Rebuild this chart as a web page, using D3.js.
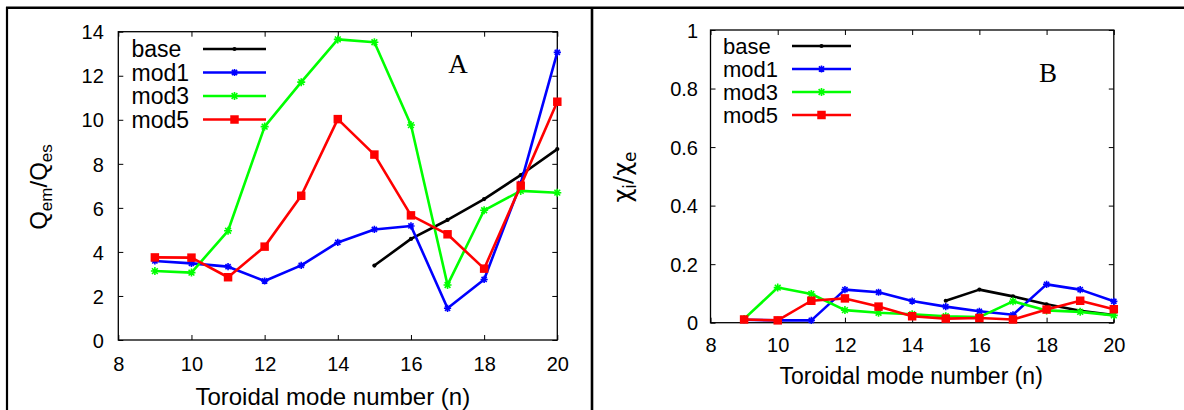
<!DOCTYPE html>
<html>
<head>
<meta charset="utf-8">
<script src="https://cdn.jsdelivr.net/npm/d3@7"></script>
<style>
  html, body { margin: 0; padding: 0; background: #fff; }
  svg { display: block; }
  text { font-family: "Liberation Sans", Arial, Helvetica, sans-serif; fill: #000; }
</style>
</head>
<body>
<svg id="chart" width="1184" height="410"></svg>
<script>
// ---- data ----
const modeNumbers = [9, 10, 11, 12, 13, 14, 15, 16, 17, 18, 19, 20];
const baseModes = [15, 16, 17, 18, 19, 20];
const seriesNames = ["base", "mod1", "mod3", "mod5"];
const seriesColors = ["#000000", "#0000ff", "#00ff00", "#ff0000"];

// Panel A: Q_em / Q_es
const qBase = [3.38, 4.59, 5.45, 6.40, 7.49, 8.67];
const qMod1 = [3.59, 3.48, 3.33, 2.68, 3.39, 4.43, 5.02, 5.18, 1.44, 2.75, 7.10, 13.06];
const qMod3 = [3.13, 3.06, 4.96, 9.69, 11.71, 13.65, 13.52, 9.76, 2.50, 5.89, 6.77, 6.69];
const qMod5 = [3.75, 3.74, 2.85, 4.24, 6.55, 10.03, 8.42, 5.66, 4.80, 3.24, 7.01, 10.82];

// Panel B: chi_i / chi_e
const cBase = [0.075, 0.113, 0.090, 0.063, 0.041, 0.026];
const cMod1 = [0.010, 0.008, 0.008, 0.113, 0.104, 0.074, 0.055, 0.039, 0.027, 0.131, 0.113, 0.073];
const cMod3 = [0.013, 0.120, 0.098, 0.043, 0.034, 0.029, 0.022, 0.019, 0.073, 0.042, 0.037, 0.025];
const cMod5 = [0.011, 0.008, 0.075, 0.083, 0.055, 0.022, 0.014, 0.016, 0.011, 0.045, 0.075, 0.046];

const xTicks = [8, 10, 12, 14, 16, 18, 20];
const yTicksA = [0, 2, 4, 6, 8, 10, 12, 14];
const yTicksB = [0, 0.2, 0.4, 0.6, 0.8, 1];

const svg = d3.select("#chart");

// frame lines
svg.append("line").attr("x1", 6).attr("x2", 1184).attr("y1", 7.8).attr("y2", 7.8)
  .attr("stroke", "#000").attr("stroke-width", 2.4);
svg.append("line").attr("x1", 7).attr("x2", 7).attr("y1", 7).attr("y2", 410)
  .attr("stroke", "#000").attr("stroke-width", 2.2);
svg.append("line").attr("x1", 592).attr("x2", 592).attr("y1", 7).attr("y2", 410)
  .attr("stroke", "#000").attr("stroke-width", 2.6);

function markerPath(kind) {
  if (kind === "circle") return d3.symbol().type(d3.symbolCircle).size(14)();
  if (kind === "square") return d3.symbol().type(d3.symbolSquare).size(72)();
  // asterisk
  const r = kind === "star2" ? 4 : 3.6;
  const d = r * 0.72;
  return `M${-r},0L${r},0M0,${-r}L0,${r}M${-d},${-d}L${d},${d}M${-d},${d}L${d},${-d}`;
}
const markerKinds = ["circle", "star", "star2", "square"];

function drawPanel(cfg) {
  const g = svg.append("g");
  const x = d3.scaleLinear().domain([8, 20]).range([cfg.left, cfg.right]);
  const y = d3.scaleLinear().domain(cfg.yDomain).range([cfg.bottom, cfg.top]);

  // axes box
  g.append("rect").attr("x", cfg.left).attr("y", cfg.top)
    .attr("width", cfg.right - cfg.left).attr("height", cfg.bottom - cfg.top)
    .attr("fill", "none").attr("stroke", "#000").attr("stroke-width", 1.3);

  const tl = 5;
  // x ticks (bottom & top, inward)
  const xAxisB = d3.axisBottom(x).tickValues(cfg.xTicks).tickSize(-tl).tickPadding(0).tickFormat(d3.format("d"));
  const gx = g.append("g").attr("transform", `translate(0,${cfg.bottom})`).call(xAxisB);
  gx.select(".domain").remove();
  gx.selectAll(".tick line").attr("stroke", "#000").attr("stroke-width", 1);
  gx.selectAll(".tick text").attr("dy", null).attr("y", cfg.xLabelOffset)
    .attr("font-size", 20).style("font-family", '"Liberation Sans", Arial, sans-serif').attr("fill", "#000");
  const xAxisT = d3.axisTop(x).tickValues(cfg.xTicks).tickSize(-tl).tickFormat("");
  const gxt = g.append("g").attr("transform", `translate(0,${cfg.top})`).call(xAxisT);
  gxt.select(".domain").remove();
  gxt.selectAll(".tick line").attr("stroke", "#000").attr("stroke-width", 1);

  // y ticks (left & right, inward)
  const yAxisL = d3.axisLeft(y).tickValues(cfg.yTicks).tickSize(-tl).tickPadding(0).tickFormat(cfg.yFormat);
  const gy = g.append("g").attr("transform", `translate(${cfg.left},0)`).call(yAxisL);
  gy.select(".domain").remove();
  gy.selectAll(".tick line").attr("stroke", "#000").attr("stroke-width", 1);
  gy.selectAll(".tick text").attr("x", -cfg.yLabelGap).attr("dy", "0.36em")
    .attr("font-size", 20).style("font-family", '"Liberation Sans", Arial, sans-serif').attr("fill", "#000");
  const yAxisR = d3.axisRight(y).tickValues(cfg.yTicks).tickSize(-tl).tickFormat("");
  const gyr = g.append("g").attr("transform", `translate(${cfg.right},0)`).call(yAxisR);
  gyr.select(".domain").remove();
  gyr.selectAll(".tick line").attr("stroke", "#000").attr("stroke-width", 1);

  // series
  const line = d3.line().x(d => x(d[0])).y(d => y(d[1]));
  cfg.series.forEach((s, i) => {
    const pts = s.xs.map((v, k) => [v, s.ys[k]]);
    g.append("path").datum(pts).attr("d", line).attr("fill", "none")
      .attr("stroke", seriesColors[i]).attr("stroke-width", 2.6).attr("stroke-linejoin", "round");
    const kind = markerKinds[i];
    g.selectAll(null).data(pts).enter().append("path")
      .attr("transform", d => `translate(${x(d[0])},${y(d[1])})`)
      .attr("d", markerPath(kind))
      .attr("fill", (kind === "circle" || kind === "square") ? seriesColors[i] : "none")
      .attr("stroke", seriesColors[i])
      .attr("stroke-width", (kind === "circle" || kind === "square") ? 0 : 1.6);
  });

  // legend
  seriesNames.forEach((name, i) => {
    const yy = cfg.legY + i * cfg.legStep;
    g.append("text").attr("x", cfg.legTextX).attr("y", yy + 8).attr("font-size", cfg.legFont).text(name);
    g.append("line").attr("x1", cfg.legLineX1).attr("x2", cfg.legLineX2).attr("y1", yy).attr("y2", yy)
      .attr("stroke", seriesColors[i]).attr("stroke-width", 2.6);
    const kind = markerKinds[i];
    g.append("path").attr("transform", `translate(${(cfg.legLineX1 + cfg.legLineX2) / 2},${yy})`)
      .attr("d", markerPath(kind))
      .attr("fill", (kind === "circle" || kind === "square") ? seriesColors[i] : "none")
      .attr("stroke", seriesColors[i])
      .attr("stroke-width", (kind === "circle" || kind === "square") ? 0 : 1.6);
  });

  // panel letter
  g.append("text").attr("x", cfg.letterX).attr("y", cfg.letterY).attr("text-anchor", "middle")
    .attr("font-size", 27).style("font-family", '"Liberation Serif", "Times New Roman", serif')
    .text(cfg.letter);

  // x title
  g.append("text").attr("x", (cfg.left + cfg.right) / 2 + cfg.xTitleShift).attr("y", cfg.xTitleY)
    .attr("text-anchor", "middle").attr("font-size", cfg.xTitleSize).text("Toroidal mode number (n)");

  // y title
  const yt = g.append("text").attr("transform", `translate(${cfg.yTitleX},${cfg.yTitleY}) rotate(-90)`)
    .attr("text-anchor", "middle").attr("font-size", 24)
    .style("font-family", cfg.yTitleFont);
  yt.append("tspan").text(cfg.yTitle[0]);
  yt.append("tspan").attr("font-size", 17).attr("dy", 5).text(cfg.yTitle[1]);
  yt.append("tspan").attr("dy", -5).text("/" + cfg.yTitle[2]);
  yt.append("tspan").attr("font-size", 17).attr("dy", 5).text(cfg.yTitle[3]);
}

drawPanel({
  left: 118.3, right: 557.3, top: 31.7, bottom: 340,
  yDomain: [0, 14], yTicks: yTicksA, xTicks: xTicks, yFormat: d3.format("d"),
  xLabelOffset: 31, yLabelGap: 14.5,
  series: [
    { xs: baseModes, ys: qBase },
    { xs: modeNumbers, ys: qMod1 },
    { xs: modeNumbers, ys: qMod3 },
    { xs: modeNumbers, ys: qMod5 }
  ],
  legY: 49, legStep: 23.5, legFont: 23, legTextX: 131.5, legLineX1: 203, legLineX2: 266,
  letter: "A", letterX: 458, letterY: 72.5,
  xTitleShift: -5, xTitleY: 405, xTitleSize: 24,
  yTitle: ["Q", "em", "Q", "es"], yTitleX: 47, yTitleY: 187,
  yTitleFont: '"Liberation Sans", Arial, sans-serif'
});

drawPanel({
  left: 710.5, right: 1113.8, top: 30, bottom: 322.7,
  yDomain: [0, 1], yTicks: yTicksB, xTicks: xTicks, yFormat: d => d === 0 || d === 1 ? d3.format("d")(d) : d3.format(".1f")(d),
  xLabelOffset: 29, yLabelGap: 12.5,
  series: [
    { xs: baseModes, ys: cBase },
    { xs: modeNumbers, ys: cMod1 },
    { xs: modeNumbers, ys: cMod3 },
    { xs: modeNumbers, ys: cMod5 }
  ],
  legY: 46, legStep: 23, legFont: 22, legTextX: 723, legLineX1: 792, legLineX2: 851,
  letter: "B", letterX: 1048, letterY: 81.5,
  xTitleShift: -1, xTitleY: 383.5, xTitleSize: 23,
  yTitle: ["χ", "i", "χ", "e"], yTitleX: 631, yTitleY: 177,
  yTitleFont: '"DejaVu Sans", sans-serif'
});
</script>
</body>
</html>
